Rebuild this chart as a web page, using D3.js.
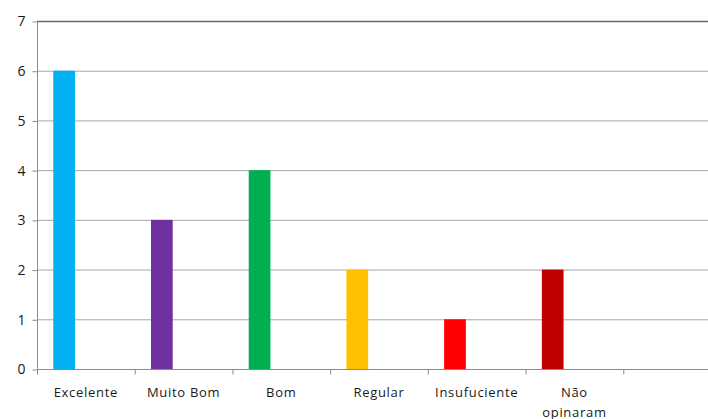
<!doctype html>
<html>
<head>
<meta charset="utf-8"/>
<script src="https://cdnjs.cloudflare.com/ajax/libs/d3/7.8.5/d3.min.js"></script>
<style>
  body { margin: 0; background: #fff; }
  text { font-family: "Open Sans", "Liberation Sans", sans-serif; fill: #1a1a1a; }
</style>
</head>
<body>
<svg width="708" height="419"></svg>
<script>
// categories (last slot is empty in the original chart)
var categories = ["Excelente", "Muito Bom", "Bom", "Regular", "Insufuciente", "Não opinaram", ""]
var values = [6, 3, 4, 2, 1, 2, null]
var colors = ["#00B0F0", "#7030A0", "#00B050", "#FFC000", "#FF0000", "#C00000", "#ffffff"]
var series = ["s1", "s2", "s3"]   // only the first series holds data
var yTicks = [0, 1, 2, 3, 4, 5, 6, 7]

var svg = d3.select("svg")
var mLeft = 37, mRight = 721, mTop = 21, mBottom = 369

var x = d3.scaleBand().domain(categories).range([mLeft, mRight])
var xs = d3.scaleBand().domain(series).range([0, x.bandwidth()]).paddingInner(0).paddingOuter(0.75)
var y = d3.scaleLinear().domain([0, 7]).range([mBottom, mTop])

// gridlines
svg.append("g")
  .selectAll("line")
  .data(yTicks.filter(d => d > 0))
  .enter()
  .append("line")
  .attr("x1", mLeft).attr("x2", 708)
  .attr("y1", d => y(d) + 0.5).attr("y2", d => y(d) + 0.5)
  .attr("stroke", d => d == 7 ? "#6a6a6a" : "#a6a6a6")
  .attr("stroke-width", d => d == 7 ? 1.5 : 1)

// bars
svg.append("g")
  .selectAll("rect")
  .data(values.map((v, i) => ({cat: categories[i], v: v, c: colors[i]})).filter(d => d.v != null))
  .enter()
  .append("rect")
  .attr("x", d => x(d.cat) + xs("s1"))
  .attr("width", xs.bandwidth())
  .attr("y", d => y(d.v))
  .attr("height", d => y(0) - y(d.v))
  .attr("fill", d => d.c)

// y axis
var yAxis = svg.append("g")
  .attr("transform", "translate(" + (mLeft + 0.5) + ",0.5)")
  .call(d3.axisLeft(y).tickValues(yTicks).tickSize(5).tickPadding(7).tickFormat(d3.format("d")))
yAxis.select(".domain").attr("stroke", "#8c8c8c").attr("d", "M0," + mTop + "V" + mBottom)
yAxis.selectAll(".tick line").attr("stroke", "#8c8c8c")
yAxis.selectAll("text").style("font-size", "14px").attr("fill", "#1a1a1a")

// x axis
var xAxis = svg.append("g")
  .attr("transform", "translate(0," + (mBottom + 0.5) + ")")
xAxis.append("line").attr("x1", mLeft).attr("x2", 708).attr("stroke", "#8c8c8c")
xAxis.selectAll(".tk")
  .data(categories)
  .enter()
  .append("line")
  .attr("x1", d => x(d) + 0.5).attr("x2", d => x(d) + 0.5)
  .attr("y1", 0).attr("y2", 5)
  .attr("stroke", "#8c8c8c")

xAxis.selectAll(".lbl")
  .data(categories)
  .enter()
  .append("text")
  .attr("text-anchor", "middle")
  .style("font-size", "13px")
  .style("letter-spacing", "0.7px")
  .attr("transform", d => "translate(" + (x(d) + x.bandwidth() / 2) + ",27)")
  .each(function(d) {
    var words = d == "Não opinaram" ? ["Não", "opinaram"] : [d]
    d3.select(this).selectAll("tspan")
      .data(words)
      .enter()
      .append("tspan")
      .attr("x", 0)
      .attr("dy", (w, i) => i == 0 ? 0 : 20)
      .text(w => w)
  })
</script>
</body>
</html>
